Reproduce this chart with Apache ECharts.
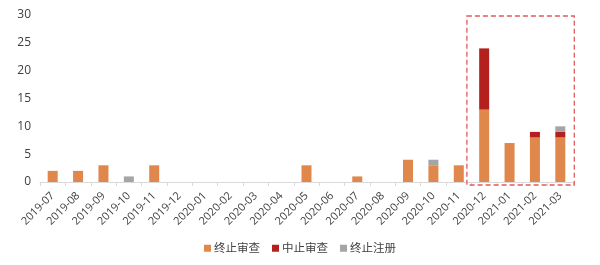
<!DOCTYPE html>
<html><head><meta charset="utf-8">
<script src="https://cdn.jsdelivr.net/npm/echarts@6/dist/echarts.min.js"></script>
<style>html,body{margin:0;padding:0;background:#fff}#c{width:600px;height:265px}</style>
</head><body><div id="c"></div>
<script>
var categories = ['2019-07','2019-08','2019-09','2019-10','2019-11','2019-12','2020-01','2020-02','2020-03','2020-04','2020-05','2020-06','2020-07','2020-08','2020-09','2020-10','2020-11','2020-12','2021-01','2021-02','2021-03'];
var terminateReview = [2,2,3,0,3,0,0,0,0,0,3,0,1,0,4,3,3,13,7,8,8];
var suspendReview   = [0,0,0,0,0,0,0,0,0,0,0,0,0,0,0,0,0,11,0,1,1];
var terminateReg    = [0,0,0,1,0,0,0,0,0,0,0,0,0,0,0,1,0,0,0,0,1];
var seriesNames = ['终止审查','中止审查','终止注册'];
var yTicks = [0,5,10,15,20,25,30];
var highlightFrom = '2020-12', highlightTo = '2021-03';

var font = '"Open Sans","Noto Sans CJK SC",sans-serif';
var chart = echarts.init(document.getElementById('c'));
function nz(a){return a.map(function(v){return v===0?null:v;});}
var colors = ['#E0874B','#B3201E','#A5A5A5'];
chart.setOption({
  animation:false,
  color: colors,
  grid:{left:40,right:27,top:15,bottom:83},
  legend:{bottom:6,left:'center',itemWidth:7,itemHeight:7,itemGap:12,icon:'rect',
    textStyle:{fontFamily:font,fontSize:11.5,color:'#404040',padding:[0,0,0,-2]},data:seriesNames},
  xAxis:{type:'category',data:categories,
    axisLine:{lineStyle:{color:'#D9D9D9'}},
    axisTick:{show:true,alignWithLabel:false,length:4,lineStyle:{color:'#D9D9D9'}},
    axisLabel:{rotate:45,interval:0,fontFamily:font,fontSize:11,color:'#404040',margin:12}},
  yAxis:{type:'value',min:yTicks[0],max:yTicks[yTicks.length-1],interval:5,
    axisLine:{show:false},axisTick:{show:false},splitLine:{show:false},
    axisLabel:{fontFamily:font,fontSize:12,color:'#404040',margin:9}},
  series:[
    {name:seriesNames[0],type:'bar',stack:'a',barWidth:10,data:nz(terminateReview)},
    {name:seriesNames[1],type:'bar',stack:'a',barWidth:10,data:nz(suspendReview)},
    {name:seriesNames[2],type:'bar',stack:'a',barWidth:10,data:nz(terminateReg)}
  ]
});
var c0 = chart.convertToPixel({xAxisIndex:0},highlightFrom);
var c1 = chart.convertToPixel({xAxisIndex:0},highlightTo);
var band = (c1-c0)/(categories.indexOf(highlightTo)-categories.indexOf(highlightFrom));
var yTop = chart.convertToPixel({yAxisIndex:0},yTicks[yTicks.length-1]);
var yBot = chart.convertToPixel({yAxisIndex:0},0);
var x0 = c0 - band*0.68, x1 = c1 + band*0.55;
chart.setOption({graphic:[{type:'rect',shape:{x:x0,y:yTop+1,width:x1-x0,height:yBot-yTop+2},
  style:{fill:'none',stroke:'#E25A5A',lineWidth:1.3,lineDash:[5,3]},z:10}]});
</script></body></html>
